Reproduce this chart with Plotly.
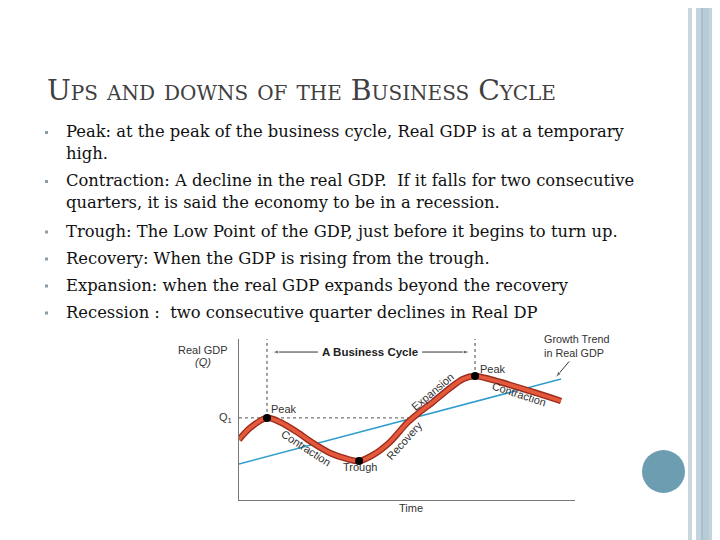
import plotly.graph_objects as go

W, H = 720, 540
OFF = 8  # the page body margin shifts the figure by 8px

# ---------------- data (chart units: time 0..12, real GDP 0..10) ----------------
cycle_time = [0.0, 0.39, 1.0, 1.46, 2.07, 2.64, 3.25, 3.86, 4.29, 4.79, 5.39, 6.0, 6.46, 6.93, 7.54, 8.0, 8.43, 9.32, 10.5, 11.5]
cycle_gdp = [3.75, 4.47, 5.1, 4.84, 4.22, 3.54, 2.92, 2.55, 2.42, 2.80, 3.60, 4.78, 5.47, 6.09, 6.96, 7.52, 7.70, 7.33, 6.71, 6.15]
trend_time = [0.0, 11.5]
trend_gdp = [2.24, 7.52]
turn_time = [1.0, 4.29, 8.43]
turn_gdp = [5.1, 2.42, 7.70]
turn_labels = ["Peak", "Trough", "Peak"]
q1_value = 5.1
q1_end_time = 6.1
axis_top = 10
cycle_arrow_gdp = 9.19
cycle_arrow_left = [2.82, 1.18]
cycle_arrow_right = [6.54, 8.25]
trend_arrow_time = [11.79, 11.3]
trend_arrow_gdp = [8.6, 7.6]

title_text = "Ups and downs of the Business Cycle"
bullet_lines = [
    ["Peak: at the peak of the business cycle, Real GDP is at a temporary", "high."],
    ["Contraction: A decline in the real GDP.  If it falls for two consecutive",
     "quarters, it is said the economy to be in a recession."],
    ["Trough: The Low Point of the GDP, just before it begins to turn up."],
    ["Recovery: When the GDP is rising from the trough."],
    ["Expansion: when the real GDP expands beyond the recovery"],
    ["Recession :  two consecutive quarter declines in Real DP"],
]


def px(x):
    return (x - OFF) / W


def py(y):
    return 1 - (y - OFF) / H


fig = go.Figure()

# trend line
fig.add_trace(go.Scatter(x=trend_time, y=trend_gdp, mode="lines",
                         line=dict(color="#2f9dcc", width=1.5), hoverinfo="skip"))
# Q1 dashed
fig.add_trace(go.Scatter(x=[0, q1_end_time], y=[q1_value, q1_value], mode="lines",
                         line=dict(color="#555555", width=1, dash="3px,3px"), hoverinfo="skip"))
# dotted verticals from peaks
for i in (0, 2):
    fig.add_trace(go.Scatter(x=[turn_time[i], turn_time[i]], y=[turn_gdp[i], axis_top], mode="lines",
                             line=dict(color="#444444", width=1, dash="dot"), hoverinfo="skip"))
# arrows
arrow_marker = dict(symbol="arrow", size=[0, 7], angleref="previous", color="#333333")
for xs, ys in [(cycle_arrow_left, [cycle_arrow_gdp] * 2), (cycle_arrow_right, [cycle_arrow_gdp] * 2),
               (trend_arrow_time, trend_arrow_gdp)]:
    fig.add_trace(go.Scatter(x=xs, y=ys, mode="lines+markers", line=dict(color="#333333", width=1),
                             marker=arrow_marker, hoverinfo="skip", cliponaxis=False))
# business cycle curve: dark outline + red core
fig.add_trace(go.Scatter(x=cycle_time, y=cycle_gdp, mode="lines",
                         line=dict(color="#9a2c1c", width=6.5, shape="spline", smoothing=0.8), hoverinfo="skip"))
fig.add_trace(go.Scatter(x=cycle_time, y=cycle_gdp, mode="lines",
                         line=dict(color="#e4583c", width=3.8, shape="spline", smoothing=0.8), hoverinfo="skip"))
# turning points
fig.add_trace(go.Scatter(x=turn_time, y=turn_gdp, mode="markers",
                         marker=dict(color="black", size=8), hoverinfo="skip"))

fig.update_layout(
    width=W, height=H, margin=dict(l=0, r=0, t=0, b=0),
    paper_bgcolor="white", plot_bgcolor="rgba(0,0,0,0)", showlegend=False,
    xaxis=dict(domain=[px(239), px(575)], range=[0, 12], showgrid=False, zeroline=False,
               showticklabels=False, ticks="", showline=True, linecolor="#777777", linewidth=1.3),
    yaxis=dict(domain=[py(500), py(339)], range=[0, 10], showgrid=False, zeroline=False,
               showticklabels=False, ticks="", showline=True, linecolor="#777777", linewidth=1.3),
)

shapes = []
# slide decorations
shapes.append(dict(type="rect", xref="paper", yref="paper", x0=px(688), x1=px(692), y0=-0.1, y1=1.1,
                   fillcolor="#c9d8dd", line=dict(width=0), layer="below"))
shapes.append(dict(type="rect", xref="paper", yref="paper", x0=px(696), x1=px(730), y0=-0.1, y1=1.1,
                   fillcolor="#c4d4de", line=dict(width=0), layer="below"))
shapes.append(dict(type="rect", xref="paper", yref="paper", x0=px(701), x1=px(703), y0=-0.1, y1=1.1,
                   fillcolor="#a9bfcc", line=dict(width=0), layer="below"))
shapes.append(dict(type="rect", xref="paper", yref="paper", x0=px(703), x1=px(709), y0=-0.1, y1=1.1,
                   fillcolor="#b8ccd6", line=dict(width=0), layer="below"))
shapes.append(dict(type="circle", xref="paper", yref="paper", x0=px(642), x1=px(685), y0=py(493), y1=py(450),
                   fillcolor="#6c9db1", line=dict(width=0)))

annotations = []
annotations.append(dict(text=title_text, xref="paper", yref="paper", x=px(45), y=py(91),
                        xanchor="left", yanchor="middle", showarrow=False,
                        font=dict(family="DejaVu Serif", size=28.3, color="#404040", variant="small-caps")))

first_line_y = [131.5, 180.5, 231, 258, 285, 312]
line_gap = 21.5
for ys, lines in zip(first_line_y, bullet_lines):
    shapes.append(dict(type="rect", xref="paper", yref="paper", x0=px(45), x1=px(48), y0=py(ys + 2.5), y1=py(ys - 0.5),
                       fillcolor="#8e9ea8", line=dict(width=0)))
    for j, line in enumerate(lines):
        annotations.append(dict(text=line, xref="paper", yref="paper", x=px(64), y=py(ys + j * line_gap),
                                xanchor="left", yanchor="middle", showarrow=False,
                                font=dict(family="DejaVu Serif", size=16.35, color="#111111")))

lab = dict(family="Liberation Sans", size=11, color="#333333")


def label(text, x, y, angle=0, anchor="center", font=lab):
    annotations.append(dict(text=text, xref="paper", yref="paper", x=px(x), y=py(y), xanchor=anchor,
                            yanchor="middle", showarrow=False, textangle=angle, font=font, align="left"))


label("Real GDP", 203, 350)
label("<i>(Q)</i>", 203, 362)
label("Q<sub>1</sub>", 226, 418)
label("Time", 411, 508)
label("<b>A Business Cycle</b>", 370, 352, font=dict(family="Liberation Sans", size=11.5, color="#222222"))
label("Growth Trend<br>in Real GDP", 542, 345.5, anchor="left",
      font=dict(family="Liberation Sans", size=10.8, color="#333333"))
label("Contraction", 306, 448, angle=33)
label("Recovery", 404, 441, angle=-48)
label("Expansion", 432, 392, angle=-40)
label("Contraction", 519, 394, angle=18)
label(turn_labels[0], 284, 409)
label(turn_labels[1], 360, 467)
label(turn_labels[2], 493, 369)

fig.update_layout(shapes=shapes, annotations=annotations)
fig.write_html("out.html")
